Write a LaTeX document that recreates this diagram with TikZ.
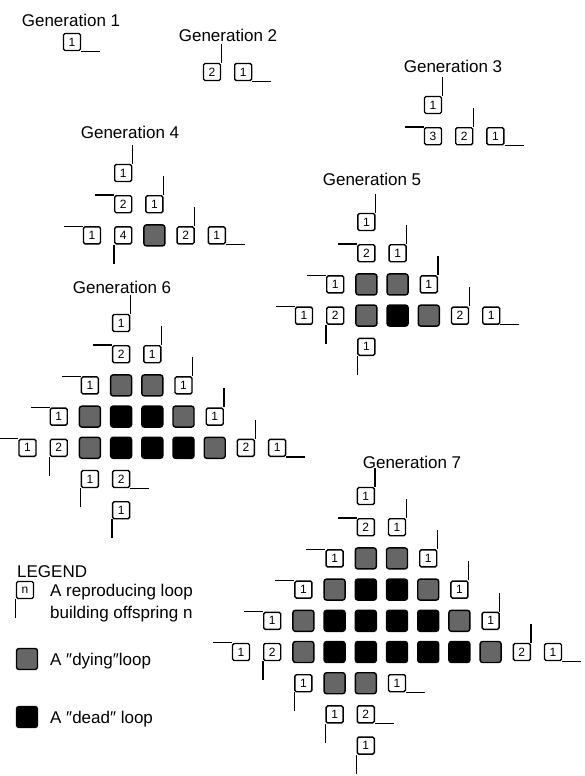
\documentclass[tikz,border=0pt]{standalone}
\usepackage{fontspec}
\setmainfont{Liberation Sans}
\definecolor{dyingc}{gray}{0.4}
\newcommand\SP{31.2}
\newcommand\AL{19}
\newcommand\dq{\symbol{"2033}}
\tikzset{
  lbl/.style={font=\fontsize{17}{20}\selectfont, inner sep=0pt},
  wbox/.style={draw, line width=1.4pt, rounded corners=1.5pt, minimum size=17pt, inner sep=0pt, font=\fontsize{12}{12}\selectfont},
  fbox/.style={draw=black, line width=1.4pt, rounded corners=2.5pt, minimum size=21pt, inner sep=0pt},
  armline/.style={line width=1.2pt},
}
\newcommand\armu[1]{\draw[armline] (#1.north east) -- ++(0,-\AL);}
\newcommand\arml[1]{\draw[armline] (#1.north west) -- ++(-\AL,0);}
\newcommand\armr[1]{\draw[armline] (#1.south east) -- ++(\AL,0);}
\newcommand\armb[1]{\draw[armline] (#1.south west) -- ++(0,\AL);}
\newcommand\armn[1]{}
% white (reproducing) loops: prefix, x0, y0, list col/row/label/arm
\newcommand\GenW[4]{\foreach \cc/\rr/\lb/\ar in {#4}{%
  \node[wbox] (#1-\cc-\rr) at ({#2+\cc*\SP},{#3+\rr*\SP}) {\lb};
  \csname arm\ar\endcsname{#1-\cc-\rr}}}
% filled loops: prefix, x0, y0, list col/row/colour
\newcommand\GenF[4]{\foreach \cc/\rr/\ty in {#4}{%
  \node[fbox, fill=\ty] (#1-\cc-\rr) at ({#2+\cc*\SP},{#3+\rr*\SP}) {};}}
\begin{document}
\begin{tikzpicture}[x=1pt,y=-1pt]
\useasboundingbox (0,0) rectangle (585,776);
% labels
\node[lbl, anchor=base] (t1) at (71,27) {Generation 1};
\node[lbl, anchor=base] (t2) at (228,42) {Generation 2};
\node[lbl, anchor=base] (t3) at (453,72) {Generation 3};
\node[lbl, anchor=base] (t4) at (130,138) {Generation 4};
\node[lbl, anchor=base] (t5) at (372,185) {Generation 5};
\node[lbl, anchor=base] (t6) at (122,293) {Generation 6};
\node[lbl, anchor=base] (t7) at (412,468) {Generation 7};
% generation 1
\GenW{ga}{72}{42}{0/0/1/r}
% generation 2
\GenW{gb}{212}{72}{0/0/2/u, 1/0/1/r}
% generation 3
\GenW{gc}{433}{105}{0/0/1/u, 0/1/3/l, 1/1/2/u, 2/1/1/r}
% generation 4
\GenW{gd}{92}{173}{1/0/1/u, 1/1/2/l, 2/1/1/u, 0/2/1/l, 1/2/4/b, 3/2/2/u, 4/2/1/r}
\GenF{gd}{92}{173}{2/2/dyingc}
% generation 5
\GenW{ge}{304}{222}{2/0/1/u, 2/1/2/l, 3/1/1/u, 1/2/1/l, 4/2/1/u,
  0/3/1/l, 1/3/2/b, 5/3/2/u, 6/3/1/r, 2/4/1/b}
\GenF{ge}{304}{222}{2/2/dyingc, 3/2/dyingc, 2/3/dyingc, 3/3/black, 4/3/dyingc}
% generation 6
\GenW{gf}{27.5}{323}{3/0/1/u, 3/1/2/l, 4/1/1/u, 2/2/1/l, 5/2/1/u,
  1/3/1/l, 6/3/1/u, 0/4/1/l, 1/4/2/b, 7/4/2/u, 8/4/1/r,
  2/5/1/b, 3/5/2/r, 3/6/1/b}
\GenF{gf}{27.5}{323}{3/2/dyingc, 4/2/dyingc,
  2/3/dyingc, 3/3/black, 4/3/black, 5/3/dyingc,
  2/4/dyingc, 3/4/black, 4/4/black, 5/4/black, 6/4/dyingc}
% generation 7
\GenW{gg}{241}{496}{4/0/1/u, 4/1/2/l, 5/1/1/u, 3/2/1/l, 6/2/1/u,
  2/3/1/l, 7/3/1/u, 1/4/1/l, 8/4/1/u,
  0/5/1/l, 1/5/2/b, 9/5/2/u, 10/5/1/r,
  2/6/1/b, 5/6/1/r, 3/7/1/b, 4/7/2/r, 4/8/1/b}
\GenF{gg}{241}{496}{4/2/dyingc, 5/2/dyingc,
  3/3/dyingc, 4/3/black, 5/3/black, 6/3/dyingc,
  2/4/dyingc, 3/4/black, 4/4/black, 5/4/black, 6/4/black, 7/4/dyingc,
  2/5/dyingc, 3/5/black, 4/5/black, 5/5/black, 6/5/black, 7/5/black, 8/5/dyingc,
  3/6/dyingc, 4/6/dyingc}
% legend
\node[lbl, anchor=base west] (leg) at (17,577) {LEGEND};
\node[wbox] (legn) at (25,590) {n};
\armb{legn}
\node[lbl, anchor=base west] (legt1) at (50,596) {A reproducing loop};
\node[lbl, anchor=base west] (legt2) at (50,618) {building offspring n};
\node[fbox, fill=dyingc] (legd) at (27,659) {};
\node[lbl, anchor=base west] (legt3) at (50,665) {A \dq dying\dq loop};
\node[fbox, fill=black] (legk) at (27,717) {};
\node[lbl, anchor=base west] (legt4) at (50,723) {A \dq dead\dq\ loop};
\end{tikzpicture}
\end{document}
